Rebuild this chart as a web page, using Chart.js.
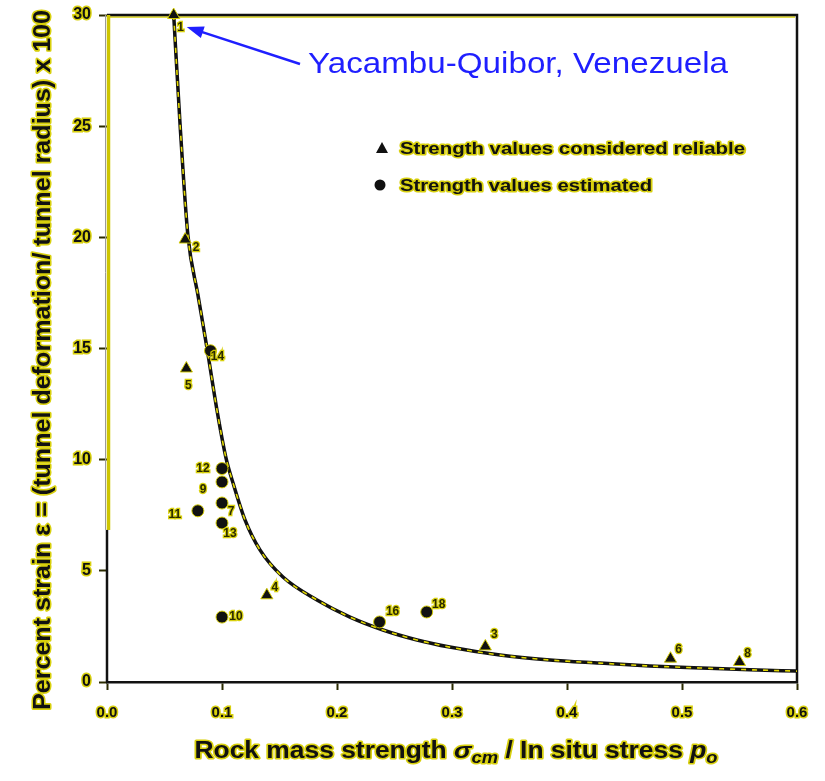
<!DOCTYPE html>
<html>
<head>
<meta charset="utf-8">
<title>Percent strain vs rock mass strength</title>
<script src="https://cdn.jsdelivr.net/npm/chart.js@4.4.0/dist/chart.umd.min.js"></script>
<style>
    html, body { margin: 0; padding: 0; background: #fff; }
</style>
</head>
<body>
<canvas id="strainChart" width="825" height="781"></canvas>
<script>
// --- Data ---
const xTicks = [0.0, 0.1, 0.2, 0.3, 0.4, 0.5, 0.6];
const yTicks = [0, 5, 10, 15, 20, 25, 30];

// trend curve
const curveX = [0.058, 0.0635, 0.0704, 0.0791, 0.087, 0.0957, 0.1035, 0.1096, 0.120, 0.133, 0.153, 0.1826,
                0.2113, 0.240, 0.2696, 0.298, 0.3417, 0.385, 0.4287, 0.472, 0.5165, 0.559, 0.600];
const curveY = [30.0, 25.1, 20.06, 17.4, 15.0, 12.2, 10.07, 8.95, 7.29, 5.94, 4.72, 3.69,
                2.92, 2.34, 1.89, 1.57, 1.21, 0.99, 0.85, 0.72, 0.63, 0.55, 0.49];

// strength values considered reliable (triangles)
const reliableX = [0.058, 0.068, 0.069, 0.139, 0.329, 0.490, 0.550];
const reliableY = [30.0, 19.9, 14.1, 3.9, 1.6, 1.05, 0.9];
const reliableLabels = ['1', '2', '5', '4', '3', '6', '8'];

// strength values estimated (circles)
const estimatedX = [0.090, 0.100, 0.100, 0.079, 0.100, 0.100, 0.100, 0.237, 0.278];
const estimatedY = [14.9, 9.6, 9.0, 7.7, 8.05, 7.15, 2.92, 2.7, 3.15];
const estimatedLabels = ['14', '12', '9', '11', '7', '13', '10', '16', '18'];

const legendLabels = ['Strength values considered reliable', 'Strength values estimated'];
const siteName = 'Yacambu-Quibor, Venezuela';
const yTitle = 'Percent strain \u03b5 = (tunnel deformation/ tunnel radius) x 100';

const INK = '#111';
const HALO = 'rgba(214, 206, 0, 0.95)';
const FONT = '"Liberation Sans", Arial, sans-serif';

function toPoints(xs, ys) {
    return xs.map((x, i) => ({ x: x, y: ys[i] }));
}

function haloText(ctx, text, x, y) {
    ctx.lineJoin = 'round';
    ctx.lineWidth = 3;
    ctx.strokeStyle = HALO;
    ctx.fillStyle = INK;
    ctx.strokeText(text, x, y);
    ctx.fillText(text, x, y);
}

// draws text squeezed/stretched horizontally to the given width
function fitText(ctx, text, x, y, width, halo) {
    const w = ctx.measureText(text).width;
    const align = ctx.textAlign;
    ctx.save();
    ctx.translate(x, y);
    ctx.scale(width / w, 1);
    ctx.textAlign = align;
    if (halo) {
        haloText(ctx, text, 0, 0);
    } else {
        ctx.fillText(text, 0, 0);
    }
    ctx.restore();
}

// offsets of the case numbers from their marker
const labelOffsets = {
    '1': [7, 13], '2': [11, 8], '5': [2, 17], '4': [8, -8], '3': [9, -12], '6': [8, -9], '8': [8, -8],
    '14': [7, 6], '12': [-19, 0], '9': [-19, 8], '11': [-23, 4], '7': [9, 9], '13': [8, 11],
    '10': [14, 0], '16': [13, -10], '18': [12, -7]
};

const overlayPlugin = {
    id: 'overlay',
    beforeDatasetsDraw(chart) {
        const { ctx, chartArea: a } = chart;
        ctx.save();
        // frame top and right
        ctx.strokeStyle = HALO;
        ctx.lineWidth = 1.5;
        ctx.beginPath();
        ctx.moveTo(a.left, a.top + 2);
        ctx.lineTo(a.right - 2, a.top + 2);
        ctx.stroke();
        ctx.strokeStyle = INK;
        ctx.lineWidth = 2.5;
        ctx.beginPath();
        ctx.moveTo(a.left, a.top);
        ctx.lineTo(a.right, a.top);
        ctx.lineTo(a.right, a.bottom + 1);
        ctx.stroke();
        // left axis: yellow upper part, black lower part
        const split = a.top + (a.bottom - a.top) * 0.772;
        ctx.strokeStyle = '#9a9a9a';
        ctx.lineWidth = 1;
        ctx.beginPath();
        ctx.moveTo(a.left - 1.5, a.top);
        ctx.lineTo(a.left - 1.5, split);
        ctx.stroke();
        ctx.strokeStyle = '#cdc500';
        ctx.lineWidth = 3.5;
        ctx.beginPath();
        ctx.moveTo(a.left + 1.5, a.top);
        ctx.lineTo(a.left + 1.5, split);
        ctx.stroke();
        ctx.strokeStyle = INK;
        ctx.lineWidth = 2.5;
        ctx.beginPath();
        ctx.moveTo(a.left, split);
        ctx.lineTo(a.left, a.bottom);
        ctx.stroke();
        ctx.restore();
    },
    afterDatasetsDraw(chart) {
        const { ctx, chartArea: a } = chart;
        ctx.save();

        // case numbers next to markers
        ctx.font = 'bold 12px ' + FONT;
        ctx.textAlign = 'center';
        ctx.textBaseline = 'middle';
        chart.data.datasets.forEach((ds, i) => {
            if (!ds.caseLabels) return;
            chart.getDatasetMeta(i).data.forEach((pt, j) => {
                const lab = ds.caseLabels[j];
                const off = labelOffsets[lab] || [8, -8];
                ctx.lineWidth = 2.5;
                ctx.strokeStyle = HALO;
                ctx.strokeText(lab, pt.x + off[0], pt.y + off[1]);
                ctx.fillStyle = '#2a2a00';
                ctx.fillText(lab, pt.x + off[0], pt.y + off[1]);
            });
        });

        // legend inside the plot
        const lx = a.left + 275, ly = a.top + 133;
        ctx.fillStyle = INK;
        ctx.beginPath();
        ctx.moveTo(lx, ly - 6);
        ctx.lineTo(lx + 6, ly + 5);
        ctx.lineTo(lx - 6, ly + 5);
        ctx.closePath();
        ctx.fill();
        ctx.beginPath();
        ctx.arc(lx - 2, ly + 37, 5.5, 0, Math.PI * 2);
        ctx.fill();
        ctx.font = 'bold 17px ' + FONT;
        ctx.textAlign = 'left';
        fitText(ctx, legendLabels[0], lx + 18, ly + 1, 345, true);
        fitText(ctx, legendLabels[1], lx + 18, ly + 38, 252, true);

        // site annotation with arrow to case 1
        const p1 = chart.getDatasetMeta(0).data[0];
        const tipX = p1.x + 13, tipY = p1.y + 12;
        const tailX = a.left + 193, tailY = a.top + 49;
        const ang = Math.atan2(tipY - tailY, tipX - tailX);
        ctx.strokeStyle = '#1f1fff';
        ctx.fillStyle = '#1f1fff';
        ctx.lineWidth = 2.5;
        ctx.beginPath();
        ctx.moveTo(tailX, tailY);
        ctx.lineTo(tipX - 14 * Math.cos(ang), tipY - 14 * Math.sin(ang));
        ctx.stroke();
        ctx.beginPath();
        ctx.moveTo(tipX, tipY);
        ctx.lineTo(tipX - 18 * Math.cos(ang - 0.35), tipY - 18 * Math.sin(ang - 0.35));
        ctx.lineTo(tipX - 18 * Math.cos(ang + 0.35), tipY - 18 * Math.sin(ang + 0.35));
        ctx.closePath();
        ctx.fill();
        ctx.font = '30px ' + FONT;
        ctx.textBaseline = 'middle';
        fitText(ctx, siteName, a.left + 201, a.top + 50, 420, false);

        // y axis title
        ctx.save();
        ctx.translate(44, 360);
        ctx.rotate(-Math.PI / 2);
        ctx.font = 'bold 23px ' + FONT;
        ctx.textAlign = 'center';
        fitText(ctx, yTitle, 0, 0, 700, true);
        ctx.restore();

        // x axis title with subscripts
        const parts = [
            { t: 'Rock mass strength ', f: 'bold 23px ', dy: 0 },
            { t: '\u03c3', f: 'italic bold 23px ', dy: 0 },
            { t: 'cm', f: 'italic bold 16px ', dy: 7 },
            { t: ' / In situ stress ', f: 'bold 23px ', dy: 0 },
            { t: 'p', f: 'italic bold 23px ', dy: 0 },
            { t: 'o', f: 'italic bold 16px ', dy: 7 }
        ];
        let total = 0;
        parts.forEach(p => { ctx.font = p.f + FONT; p.w = ctx.measureText(p.t).width; total += p.w; });
        const target = 523;
        ctx.save();
        ctx.translate(456 - target / 2, 752);
        ctx.scale(target / total, 1);
        ctx.textAlign = 'left';
        ctx.textBaseline = 'middle';
        let cx = 0;
        parts.forEach(p => {
            ctx.font = p.f + FONT;
            haloText(ctx, p.t, cx, p.dy);
            cx += p.w;
        });
        ctx.restore();

        ctx.restore();
    }
};

new Chart(document.getElementById('strainChart').getContext('2d'), {
    type: 'scatter',
    data: {
        datasets: [
            {
                label: legendLabels[0],
                data: toPoints(reliableX, reliableY),
                caseLabels: reliableLabels,
                pointStyle: 'triangle',
                pointRadius: 7,
                pointBackgroundColor: INK,
                pointBorderColor: HALO,
                pointBorderWidth: 1,
                clip: false,
                order: 0
            },
            {
                label: legendLabels[1],
                data: toPoints(estimatedX, estimatedY),
                caseLabels: estimatedLabels,
                pointStyle: 'circle',
                pointRadius: 6,
                pointBackgroundColor: INK,
                pointBorderColor: HALO,
                pointBorderWidth: 1,
                clip: false,
                order: 0
            },
            {
                label: 'trend dash',
                data: toPoints(curveX, curveY),
                showLine: true,
                pointRadius: 0,
                borderColor: '#e2d800',
                borderWidth: 1.6,
                borderDash: [5, 6],
                cubicInterpolationMode: 'monotone',
                order: 1
            },
            {
                label: 'trend',
                data: toPoints(curveX, curveY),
                showLine: true,
                pointRadius: 0,
                borderColor: INK,
                borderWidth: 3.5,
                cubicInterpolationMode: 'monotone',
                order: 2
            }
        ]
    },
    options: {
        responsive: false,
        animation: false,
        layout: {
            padding: { left: 0, top: 15, right: 28, bottom: 0 }
        },
        plugins: {
            legend: { display: false },
            tooltip: { enabled: false }
        },
        scales: {
            x: {
                type: 'linear',
                min: 0,
                max: 0.6,
                afterFit: scale => { scale.height = 99; },
                afterBuildTicks: scale => { scale.ticks = xTicks.map(v => ({ value: v })); },
                border: { display: true, color: INK, width: 2.5 },
                grid: { drawOnChartArea: false, color: '#2a2a00', tickLength: 8, tickWidth: 2 },
                ticks: {
                    color: INK,
                    font: { family: FONT, size: 15, weight: 'bold' },
                    textStrokeColor: HALO,
                    textStrokeWidth: 3,
                    padding: 14,
                    maxRotation: 0,
                    callback: v => Number(v).toFixed(1)
                }
            },
            y: {
                type: 'linear',
                min: 0,
                max: 30,
                afterFit: scale => {
                    scale.width = 107;
                    scale.paddingTop = 0;
                    scale.paddingBottom = 0;
                },
                afterBuildTicks: scale => { scale.ticks = yTicks.map(v => ({ value: v })); },
                border: { display: false },
                grid: { drawOnChartArea: false, color: '#2a2a00', tickLength: 8, tickWidth: 2 },
                ticks: {
                    color: INK,
                    font: { family: FONT, size: 16, weight: 'bold' },
                    textStrokeColor: HALO,
                    textStrokeWidth: 3,
                    padding: 8
                }
            }
        }
    },
    plugins: [overlayPlugin]
});
</script>
</body>
</html>
